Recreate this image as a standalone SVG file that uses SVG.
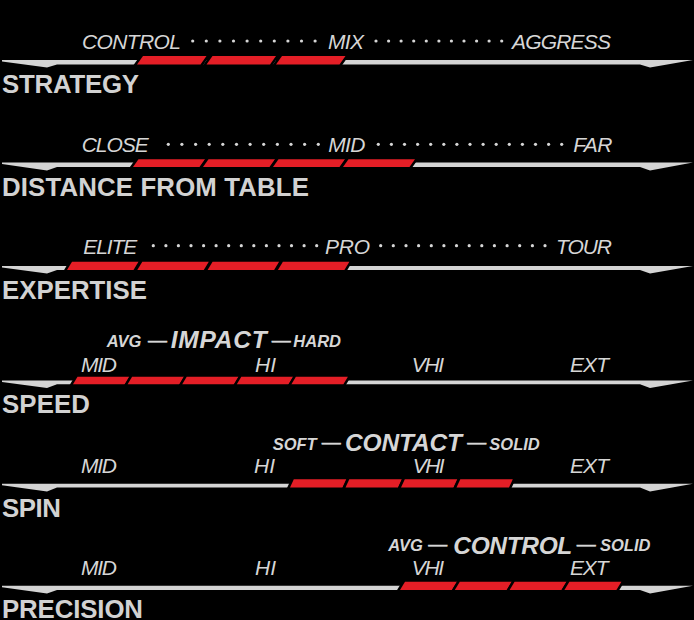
<svg xmlns="http://www.w3.org/2000/svg" width="694" height="620" viewBox="0 0 694 620">
<style>
.bar{fill:#d4d4d4}
.red{fill:#e41e26;stroke:#000;stroke-width:5;paint-order:stroke;stroke-linejoin:miter}
.lbl{font-family:"Liberation Sans",Arial,sans-serif;font-style:italic;font-size:21px;fill:#d6d6d6}
.ttl{font-family:"Liberation Sans",Arial,sans-serif;font-weight:bold;font-size:25.8px;fill:#d2d2d2}
.big{font-family:"Liberation Sans",Arial,sans-serif;font-weight:bold;font-style:italic;font-size:24.5px;fill:#d6d6d6}
.sm{font-family:"Liberation Sans",Arial,sans-serif;font-weight:bold;font-style:italic;font-size:16.5px;fill:#d6d6d6}
.dash{font-family:"Liberation Sans",Arial,sans-serif;font-size:19px;fill:#d6d6d6;stroke:#d6d6d6;stroke-width:0.5}
.dot{fill:#d6d6d6}
</style>
<rect x="0" y="0" width="694" height="620" fill="#000"/>

<g id="strategy">
<polygon class="bar" points="2,60 693,60 650,67.5 640,64.5 57,64.5 47,67.5 2,61.5"/>
<polygon class="red" points="137,64.5 200.5,64.5 206.5,56 143,56"/>
<polygon class="red" points="206.5,64.5 270,64.5 276,56 212.5,56"/>
<polygon class="red" points="276,64.5 339.5,64.5 345.5,56 282,56"/>
<text class="lbl" x="82" y="48.5" textLength="99" lengthAdjust="spacing">CONTROL</text>
<text class="lbl" x="328" y="48.5" textLength="36" lengthAdjust="spacing">MIX</text>
<text class="lbl" x="512" y="48.5" textLength="99" lengthAdjust="spacing">AGGRESS</text>
<g class="dot">
<circle cx="192.7" cy="41" r="1.6"/><circle cx="206.3" cy="41" r="1.6"/><circle cx="219.9" cy="41" r="1.6"/><circle cx="233.5" cy="41" r="1.6"/><circle cx="247.1" cy="41" r="1.6"/><circle cx="260.7" cy="41" r="1.6"/><circle cx="274.3" cy="41" r="1.6"/><circle cx="287.9" cy="41" r="1.6"/><circle cx="301.5" cy="41" r="1.6"/><circle cx="315.1" cy="41" r="1.6"/>
<circle cx="376" cy="41" r="1.6"/><circle cx="388.6" cy="41" r="1.6"/><circle cx="401.1" cy="41" r="1.6"/><circle cx="413.7" cy="41" r="1.6"/><circle cx="426.3" cy="41" r="1.6"/><circle cx="438.9" cy="41" r="1.6"/><circle cx="451.4" cy="41" r="1.6"/><circle cx="464" cy="41" r="1.6"/><circle cx="476.6" cy="41" r="1.6"/><circle cx="489.1" cy="41" r="1.6"/><circle cx="501.7" cy="41" r="1.6"/>
</g>
<text class="ttl" x="2" y="92.5" textLength="137" lengthAdjust="spacing">STRATEGY</text>
</g>

<g id="distance">
<polygon class="bar" points="2,162.5 693,162.5 650,170.5 640,167 57,167 47,170.5 2,164"/>
<polygon class="red" points="133,167 199.5,167 205,159.3 138.5,159.3"/>
<polygon class="red" points="203,167 269.5,167 275,159.3 208.5,159.3"/>
<polygon class="red" points="273,167 339.5,167 345,159.3 278.5,159.3"/>
<polygon class="red" points="343,167 409.5,167 415,159.3 348.5,159.3"/>
<text class="lbl" x="81.7" y="151.7" textLength="67" lengthAdjust="spacing">CLOSE</text>
<text class="lbl" x="328.3" y="151.7" textLength="37" lengthAdjust="spacing">MID</text>
<text class="lbl" x="573.3" y="151.7" textLength="39" lengthAdjust="spacing">FAR</text>
<g class="dot">
<circle cx="168.3" cy="144.3" r="1.6"/><circle cx="181.9" cy="144.3" r="1.6"/><circle cx="195.6" cy="144.3" r="1.6"/><circle cx="209.2" cy="144.3" r="1.6"/><circle cx="222.8" cy="144.3" r="1.6"/><circle cx="236.5" cy="144.3" r="1.6"/><circle cx="250.1" cy="144.3" r="1.6"/><circle cx="263.7" cy="144.3" r="1.6"/><circle cx="277.4" cy="144.3" r="1.6"/><circle cx="291" cy="144.3" r="1.6"/><circle cx="304.6" cy="144.3" r="1.6"/><circle cx="318.3" cy="144.3" r="1.6"/>
<circle cx="378.3" cy="144.3" r="1.6"/><circle cx="391.4" cy="144.3" r="1.6"/><circle cx="404.5" cy="144.3" r="1.6"/><circle cx="417.6" cy="144.3" r="1.6"/><circle cx="430.7" cy="144.3" r="1.6"/><circle cx="443.8" cy="144.3" r="1.6"/><circle cx="456.9" cy="144.3" r="1.6"/><circle cx="470" cy="144.3" r="1.6"/><circle cx="483.1" cy="144.3" r="1.6"/><circle cx="496.2" cy="144.3" r="1.6"/><circle cx="509.3" cy="144.3" r="1.6"/><circle cx="522.4" cy="144.3" r="1.6"/><circle cx="535.5" cy="144.3" r="1.6"/><circle cx="548.6" cy="144.3" r="1.6"/><circle cx="561.7" cy="144.3" r="1.6"/>
</g>
<text class="ttl" x="2" y="195.7" textLength="307" lengthAdjust="spacing">DISTANCE FROM TABLE</text>
</g>

<g id="expertise">
<polygon class="bar" points="2,266 693,266 650,273.5 640,270 57,270 47,273.5 2,267.5"/>
<polygon class="red" points="67,270 133.5,270 138.5,261.7 72,261.7"/>
<polygon class="red" points="137.3,270 203.8,270 208.8,261.7 142.3,261.7"/>
<polygon class="red" points="207.6,270 274.1,270 279.1,261.7 212.6,261.7"/>
<polygon class="red" points="277.9,270 344.4,270 349.4,261.7 282.9,261.7"/>
<text class="lbl" x="83.3" y="254" textLength="54" lengthAdjust="spacing">ELITE</text>
<text class="lbl" x="325" y="254" textLength="45" lengthAdjust="spacing">PRO</text>
<text class="lbl" x="556" y="254" textLength="56" lengthAdjust="spacing">TOUR</text>
<g class="dot">
<circle cx="153.3" cy="245.7" r="1.6"/><circle cx="165.9" cy="245.7" r="1.6"/><circle cx="178.4" cy="245.7" r="1.6"/><circle cx="191" cy="245.7" r="1.6"/><circle cx="203.6" cy="245.7" r="1.6"/><circle cx="216.1" cy="245.7" r="1.6"/><circle cx="228.7" cy="245.7" r="1.6"/><circle cx="241.3" cy="245.7" r="1.6"/><circle cx="253.8" cy="245.7" r="1.6"/><circle cx="266.4" cy="245.7" r="1.6"/><circle cx="279" cy="245.7" r="1.6"/><circle cx="291.5" cy="245.7" r="1.6"/><circle cx="304.1" cy="245.7" r="1.6"/><circle cx="316.7" cy="245.7" r="1.6"/>
<circle cx="380.7" cy="245.7" r="1.6"/><circle cx="393.3" cy="245.7" r="1.6"/><circle cx="406" cy="245.7" r="1.6"/><circle cx="418.6" cy="245.7" r="1.6"/><circle cx="431.3" cy="245.7" r="1.6"/><circle cx="443.9" cy="245.7" r="1.6"/><circle cx="456.5" cy="245.7" r="1.6"/><circle cx="469.2" cy="245.7" r="1.6"/><circle cx="481.8" cy="245.7" r="1.6"/><circle cx="494.4" cy="245.7" r="1.6"/><circle cx="507.1" cy="245.7" r="1.6"/><circle cx="519.7" cy="245.7" r="1.6"/><circle cx="532.4" cy="245.7" r="1.6"/><circle cx="545" cy="245.7" r="1.6"/>
</g>
<text class="ttl" x="2" y="298.5" textLength="145" lengthAdjust="spacing">EXPERTISE</text>
</g>

<g id="speed">
<polygon class="bar" points="2,380.5 693,380.5 650,388 640,384.3 57,384.3 47,388 2,382"/>
<polygon class="red" points="73,384.3 125,384.3 129.5,376.7 77.5,376.7"/>
<polygon class="red" points="127.6,384.3 179.6,384.3 184.1,376.7 132.1,376.7"/>
<polygon class="red" points="182.2,384.3 234.2,384.3 238.7,376.7 186.7,376.7"/>
<polygon class="red" points="236.8,384.3 288.8,384.3 293.3,376.7 241.3,376.7"/>
<polygon class="red" points="291.4,384.3 343.4,384.3 347.9,376.7 295.9,376.7"/>
<text class="sm" x="106.7" y="346.7">AVG</text>
<text class="dash" x="148" y="345.7">—</text>
<text class="big" x="170.7" y="348.3" textLength="96" lengthAdjust="spacing">IMPACT</text>
<text class="dash" x="271.7" y="345.7">—</text>
<text class="sm" x="293.3" y="346.7">HARD</text>
<text class="lbl" x="81" y="371.7" textLength="36" lengthAdjust="spacing">MID</text>
<text class="lbl" x="255" y="371.7">HI</text>
<text class="lbl" x="411.7" y="371.7" textLength="32.5" lengthAdjust="spacing">VHI</text>
<text class="lbl" x="570" y="371.7" textLength="39" lengthAdjust="spacing">EXT</text>
<text class="ttl" x="2" y="413.3" textLength="88" lengthAdjust="spacing">SPEED</text>
</g>

<g id="spin">
<polygon class="bar" points="2,483.7 693,483.7 650,491.5 640,487.5 57,487.5 47,491.5 2,485.2"/>
<polygon class="red" points="290,487.5 342.5,487.5 346.3,479.3 293.8,479.3"/>
<polygon class="red" points="345.5,487.5 398,487.5 401.8,479.3 349.3,479.3"/>
<polygon class="red" points="401,487.5 453.5,487.5 457.3,479.3 404.8,479.3"/>
<polygon class="red" points="456.5,487.5 509,487.5 512.8,479.3 460.3,479.3"/>
<text class="sm" x="272.7" y="450">SOFT</text>
<text class="dash" x="321.7" y="448.3">—</text>
<text class="big" x="345" y="451" textLength="117" lengthAdjust="spacing">CONTACT</text>
<text class="dash" x="467.3" y="448.3">—</text>
<text class="sm" x="489.3" y="450">SOLID</text>
<text class="lbl" x="81" y="473.3" textLength="36" lengthAdjust="spacing">MID</text>
<text class="lbl" x="254" y="473.3">HI</text>
<text class="lbl" x="412.7" y="473.3" textLength="32" lengthAdjust="spacing">VHI</text>
<text class="lbl" x="570" y="473.3" textLength="39" lengthAdjust="spacing">EXT</text>
<text class="ttl" x="2" y="516.7" textLength="59" lengthAdjust="spacing">SPIN</text>
</g>

<g id="precision">
<polygon class="bar" points="2,585.8 693,585.8 650,593.5 640,590 57,590 47,593.5 2,587.3"/>
<polygon class="red" points="400,590 452,590 457,581.7 405,581.7"/>
<polygon class="red" points="454.8,590 506.8,590 511.8,581.7 459.8,581.7"/>
<polygon class="red" points="509.6,590 561.6,590 566.6,581.7 514.6,581.7"/>
<polygon class="red" points="564.4,590 616.4,590 621.4,581.7 569.4,581.7"/>
<text class="sm" x="388.3" y="551">AVG</text>
<text class="dash" x="428.3" y="550">—</text>
<text class="big" x="453.3" y="554" textLength="119" lengthAdjust="spacing">CONTROL</text>
<text class="dash" x="576.7" y="550">—</text>
<text class="sm" x="600" y="551">SOLID</text>
<text class="lbl" x="81" y="575" textLength="36" lengthAdjust="spacing">MID</text>
<text class="lbl" x="255" y="575">HI</text>
<text class="lbl" x="411.7" y="575" textLength="32.5" lengthAdjust="spacing">VHI</text>
<text class="lbl" x="570" y="575" textLength="38.5" lengthAdjust="spacing">EXT</text>
<text class="ttl" x="2" y="617.5" textLength="141" lengthAdjust="spacing">PRECISION</text>
</g>
</svg>
